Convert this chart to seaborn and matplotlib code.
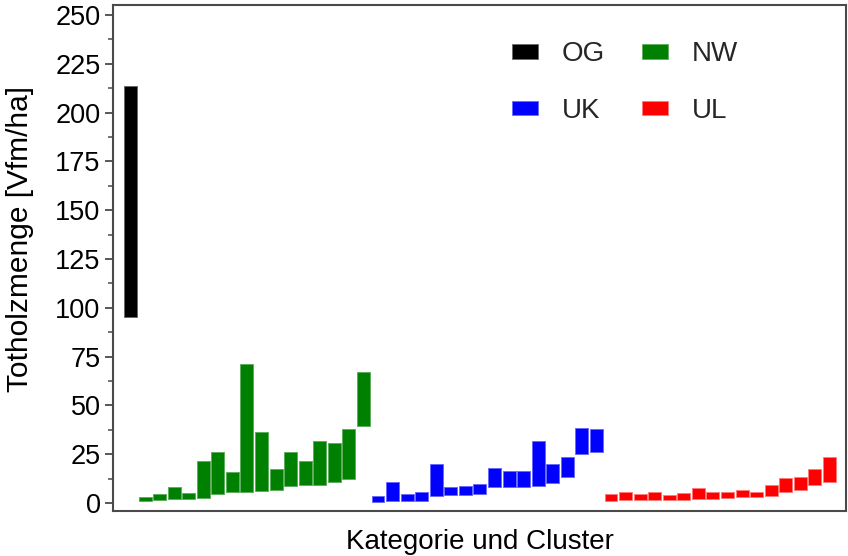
import matplotlib
matplotlib.use("Agg")
import matplotlib.pyplot as plt
from matplotlib.patches import Patch
from matplotlib.ticker import MultipleLocator, NullLocator
import pandas as pd
import seaborn as sns

# Dead-wood volume ranges (lower and upper bound) per category and cluster
og_low = [95.3]
og_high = [213.6]

nw_low = [1.2, 1.4, 1.9, 2.0, 2.7, 4.6, 5.5, 5.8, 6.0, 6.5, 8.5, 9.4, 9.4, 10.6, 12.3, 39.4]
nw_high = [3.2, 4.6, 8.4, 5.0, 21.4, 26.3, 15.7, 71.4, 36.5, 17.4, 26.3, 21.4, 31.6, 30.7, 38.1, 67.0]

uk_low = [0.5, 1.2, 1.2, 1.2, 3.7, 4.1, 4.3, 4.6, 8.2, 8.2, 8.4, 8.9, 10.2, 13.3, 25.3, 26.3]
uk_high = [3.6, 10.9, 4.6, 5.8, 20.1, 8.0, 8.9, 9.6, 17.9, 16.4, 16.4, 31.8, 20.1, 23.4, 38.6, 38.1]

ul_low = [1.0, 1.4, 1.4, 1.7, 1.7, 1.7, 2.2, 2.2, 2.4, 3.2, 3.2, 3.6, 5.5, 6.8, 9.2, 10.6]
ul_high = [4.6, 5.8, 4.6, 5.8, 4.3, 5.0, 7.7, 5.8, 5.5, 6.7, 5.8, 9.1, 12.6, 13.3, 17.6, 23.4]

categories = ["OG", "NW", "UK", "UL"]
fill_colors = {"OG": "#000000", "NW": "#008000", "UK": "#0000FF", "UL": "#FF0000"}
edge_colors = {"OG": "#6a6a6a", "NW": "#5fae5f", "UK": "#6a6aff", "UL": "#ff7a7a"}

lows = {"OG": og_low, "NW": nw_low, "UK": uk_low, "UL": ul_low}
highs = {"OG": og_high, "NW": nw_high, "UK": uk_high, "UL": ul_high}

rows = []
for cat in categories:
    for lo, hi in zip(lows[cat], highs[cat]):
        rows.append({"pos": len(rows), "group": cat, "low": lo, "high": hi, "span": hi - lo})
df = pd.DataFrame(rows)

sns.set_theme(style="ticks")
plt.rcParams["font.family"] = ["Liberation Sans", "DejaVu Sans"]

fig = plt.figure(figsize=(8.48, 5.56), dpi=100)
ax = fig.add_axes([113 / 848, 1 - 511 / 556, (846 - 113) / 848, (511 - 5) / 556])

sns.barplot(data=df, x="pos", y="span", hue="group", hue_order=categories,
            palette=fill_colors, saturation=1, width=0.89, dodge=False,
            errorbar=None, legend=False, ax=ax, linewidth=0.7)

# float every bar up to its lower bound
for p in ax.patches:
    h = p.get_height()
    if h <= 0:
        continue
    idx = int(round(p.get_x() + p.get_width() / 2))
    if 0 <= idx < len(df):
        p.set_y(df.loc[idx, "low"])
        p.set_edgecolor(edge_colors[df.loc[idx, "group"]])

ax.set_xlim(-1.2, 49.14)
ax.set_ylim(-4.1, 255.1)
ax.xaxis.set_major_locator(NullLocator())
ax.yaxis.set_major_locator(MultipleLocator(25))
ax.yaxis.set_minor_locator(MultipleLocator(12.5))

spine_col = "#4a4a4a"
for s in ax.spines.values():
    s.set_visible(True)
    s.set_color(spine_col)
    s.set_linewidth(1.5)
ax.tick_params(axis="y", which="major", length=6, width=1.3, color=spine_col,
               labelsize=19.5, labelcolor="black", pad=3)
ax.tick_params(axis="y", which="minor", length=3.5, width=1.1, color=spine_col)

ax.set_xlabel("Kategorie und Cluster", fontsize=20, color="black", labelpad=13)
ax.set_ylabel("Totholzmenge [Vfm/ha]", fontsize=21.5, color="black")
ax.yaxis.set_label_coords((34 - 113) / 733, (511 - 239) / 506)

legend_order = ["OG", "UK", "NW", "UL"]
handles = [Patch(facecolor=fill_colors[c], edgecolor=edge_colors[c], linewidth=0.6, label=c)
           for c in legend_order]
ax.legend(handles=handles, ncol=2, frameon=False, loc="upper left",
          bbox_to_anchor=((512 - 113) / 733, 0.928), borderpad=0, borderaxespad=0,
          fontsize=20, handlelength=0.94, handleheight=0.43, handletextpad=0.86,
          columnspacing=1.33, labelspacing=1.1)

fig.savefig("out.png", dpi=100, facecolor="white")
